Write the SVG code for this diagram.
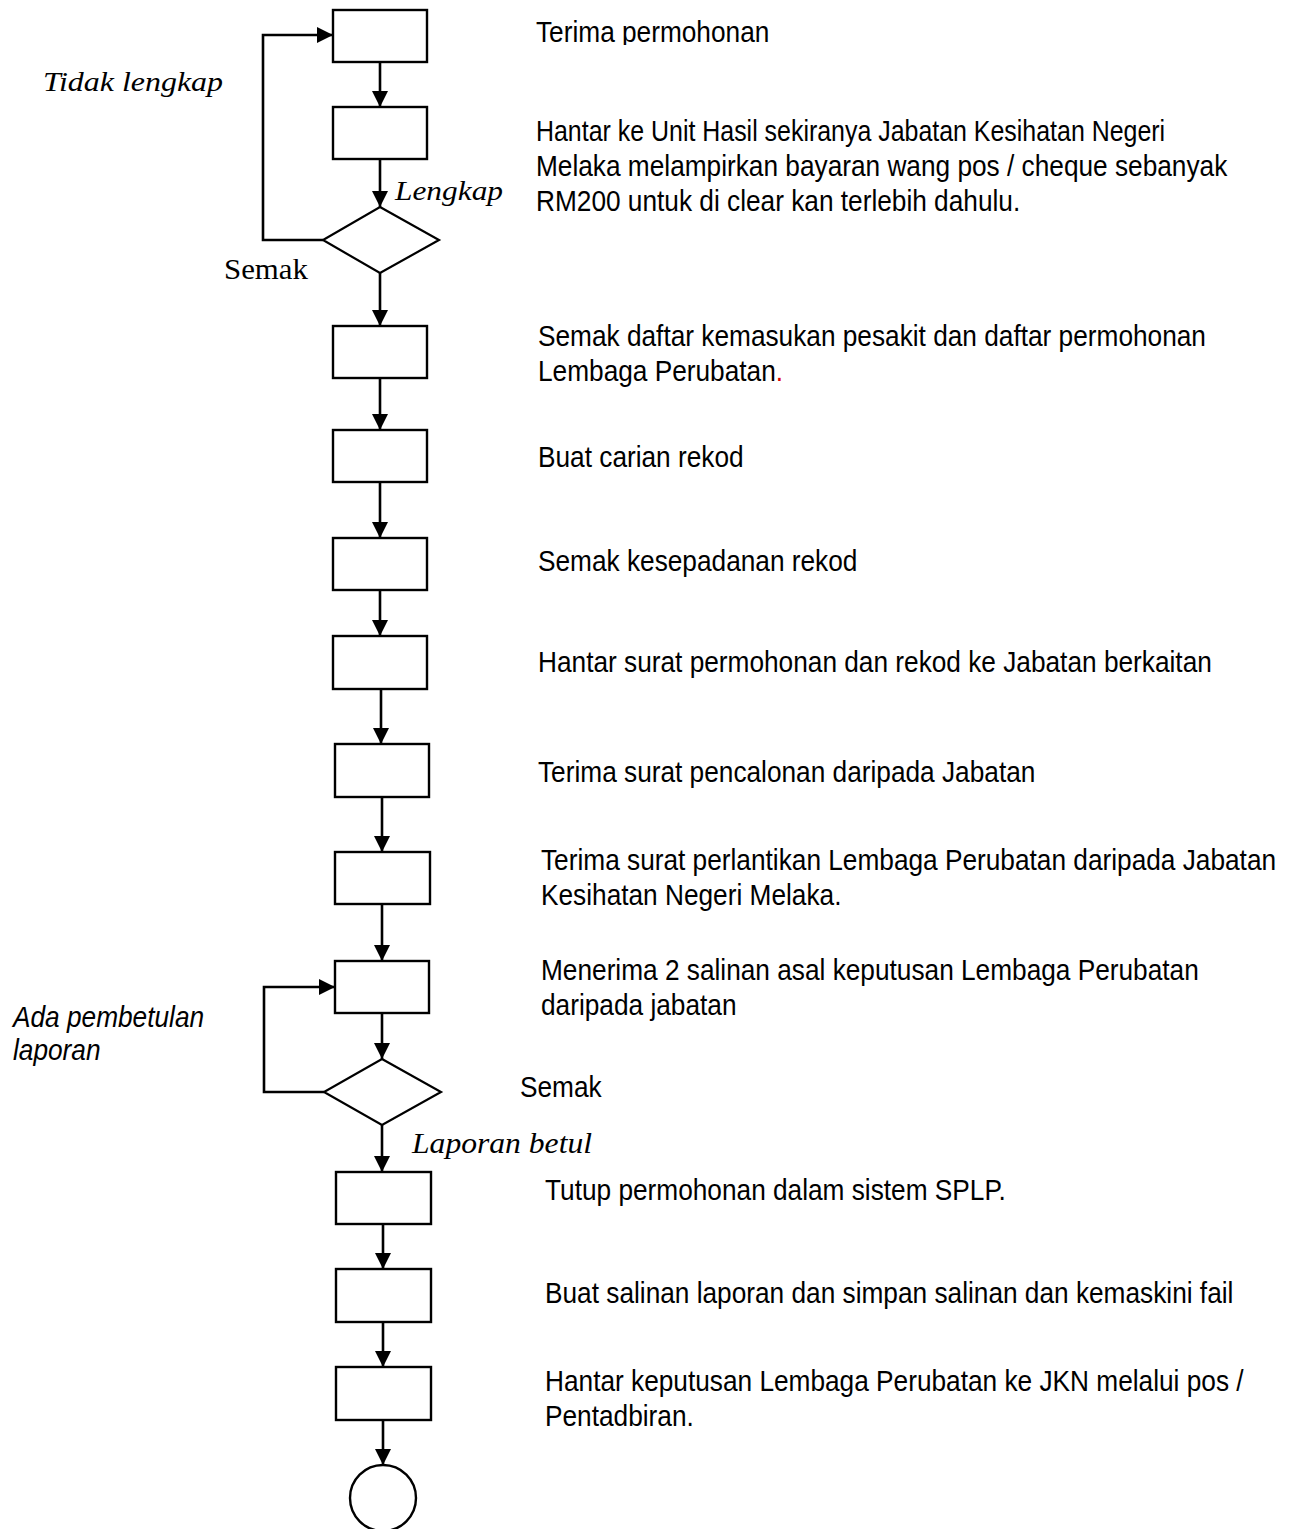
<svg xmlns="http://www.w3.org/2000/svg" width="1298" height="1529" viewBox="0 0 1298 1529">
<defs>
<marker id="ah" viewBox="0 0 16 16" refX="16" refY="8" markerWidth="16" markerHeight="16" markerUnits="userSpaceOnUse" orient="auto">
<path d="M0,0 L16,8 L0,16 z" fill="#000"/>
</marker>
<clipPath id="clipTop"><rect x="500" y="0" width="400" height="45"/></clipPath>
<style>
.box{fill:#fff;stroke:#000;stroke-width:2.4}
.dec{fill:#fff;stroke:#000;stroke-width:2.2}
.arr{fill:none;stroke:#000;stroke-width:2.6;marker-end:url(#ah)}
.t{font-family:"Liberation Sans",Arial,sans-serif;font-size:30px;fill:#000}
.ti{font-family:"Liberation Sans",Arial,sans-serif;font-size:30px;font-style:italic;fill:#000}
.s{font-family:"Liberation Serif","Times New Roman",serif;fill:#000}
.si{font-family:"Liberation Serif","Times New Roman",serif;font-style:italic;fill:#000}
</style>
</defs>
<rect width="1298" height="1529" fill="#fff"/>

<g id="connectors">
<line class="arr" x1="380" y1="62" x2="380" y2="107"/>
<line class="arr" x1="380" y1="159" x2="380" y2="207"/>
<line class="arr" x1="380" y1="273" x2="380" y2="326"/>
<line class="arr" x1="380" y1="378" x2="380" y2="430"/>
<line class="arr" x1="380" y1="482" x2="380" y2="538"/>
<line class="arr" x1="380" y1="590" x2="380" y2="636"/>
<line class="arr" x1="381" y1="689" x2="381" y2="744"/>
<line class="arr" x1="382" y1="797" x2="382" y2="852"/>
<line class="arr" x1="382" y1="904" x2="382" y2="961"/>
<line class="arr" x1="382" y1="1013" x2="382" y2="1059"/>
<line class="arr" x1="382" y1="1125" x2="382" y2="1172"/>
<line class="arr" x1="383" y1="1224" x2="383" y2="1269"/>
<line class="arr" x1="383" y1="1322" x2="383" y2="1367"/>
<line class="arr" x1="383" y1="1420" x2="383" y2="1465"/>
<polyline class="arr" points="323,240 263,240 263,35 333,35"/>
<polyline class="arr" points="324,1092 264,1092 264,987 335,987"/>
</g>

<g id="n1"><rect class="box" x="333" y="10" width="94" height="52"/>
<g clip-path="url(#clipTop)"><text class="t" transform="translate(536,42) scale(0.875,1)">Terima permohonan</text></g></g>

<g id="n2"><rect class="box" x="333" y="107" width="94" height="52"/>
<text class="t" transform="translate(536,141) scale(0.875,1)" textLength="719" lengthAdjust="spacingAndGlyphs">Hantar ke Unit Hasil sekiranya Jabatan Kesihatan Negeri</text>
<text class="t" transform="translate(536,176) scale(0.875,1)"><tspan x="0" y="0">Melaka melampirkan bayaran wang pos / cheque sebanyak</tspan><tspan x="0" y="35">RM200 untuk di clear kan terlebih dahulu.</tspan></text></g>

<g id="d1"><polygon class="dec" points="380,207 439,240 380,273 323,240"/>
<text class="s" x="224" y="279" font-size="30" textLength="84" lengthAdjust="spacingAndGlyphs">Semak</text>
<text class="si" x="395" y="200" font-size="27" textLength="108" lengthAdjust="spacingAndGlyphs">Lengkap</text>
<text class="si" x="43" y="91" font-size="28" textLength="180" lengthAdjust="spacingAndGlyphs">Tidak lengkap</text></g>

<g id="n3"><rect class="box" x="333" y="326" width="94" height="52"/>
<text class="t" transform="translate(538,346) scale(0.875,1)"><tspan x="0" y="0">Semak daftar kemasukan pesakit dan daftar permohonan</tspan><tspan x="0" y="35">Lembaga Perubatan<tspan fill="#e00000">.</tspan></tspan></text></g>

<g id="n4"><rect class="box" x="333" y="430" width="94" height="52"/>
<text class="t" transform="translate(538,467) scale(0.875,1)">Buat carian rekod</text></g>

<g id="n5"><rect class="box" x="333" y="538" width="94" height="52"/>
<text class="t" transform="translate(538,571) scale(0.875,1)">Semak kesepadanan rekod</text></g>

<g id="n6"><rect class="box" x="333" y="636" width="94" height="53"/>
<text class="t" transform="translate(538,672) scale(0.875,1)">Hantar surat permohonan dan rekod ke Jabatan berkaitan</text></g>

<g id="n7"><rect class="box" x="335" y="744" width="94" height="53"/>
<text class="t" transform="translate(538,782) scale(0.875,1)">Terima surat pencalonan daripada Jabatan</text></g>

<g id="n8"><rect class="box" x="335" y="852" width="95" height="52"/>
<text class="t" transform="translate(541,870) scale(0.875,1)"><tspan x="0" y="0">Terima surat perlantikan Lembaga Perubatan daripada Jabatan</tspan><tspan x="0" y="35">Kesihatan Negeri Melaka.</tspan></text></g>

<g id="n9"><rect class="box" x="335" y="961" width="94" height="52"/>
<text class="t" transform="translate(541,980) scale(0.875,1)"><tspan x="0" y="0">Menerima 2 salinan asal keputusan Lembaga Perubatan</tspan><tspan x="0" y="35">daripada jabatan</tspan></text></g>

<g id="d2"><polygon class="dec" points="382,1059 441,1092 382,1125 324,1092"/>
<text class="t" transform="translate(520,1097) scale(0.875,1)">Semak</text>
<text class="si" x="412" y="1153" font-size="29" textLength="180" lengthAdjust="spacingAndGlyphs">Laporan betul</text>
<text class="ti" transform="translate(13,1027) scale(0.875,1)"><tspan x="0" y="0">Ada pembetulan</tspan><tspan x="0" y="33">laporan</tspan></text></g>

<g id="n10"><rect class="box" x="336" y="1172" width="95" height="52"/>
<text class="t" transform="translate(545,1200) scale(0.875,1)">Tutup permohonan dalam sistem SPLP.</text></g>

<g id="n11"><rect class="box" x="336" y="1269" width="95" height="53"/>
<text class="t" transform="translate(545,1303) scale(0.875,1)">Buat salinan laporan dan simpan salinan dan kemaskini fail</text></g>

<g id="n12"><rect class="box" x="336" y="1367" width="95" height="53"/>
<text class="t" transform="translate(545,1391) scale(0.875,1)"><tspan x="0" y="0">Hantar keputusan Lembaga Perubatan ke JKN melalui pos /</tspan><tspan x="0" y="35">Pentadbiran.</tspan></text></g>

<g id="end"><circle class="box" cx="383" cy="1498" r="33"/></g>
</svg>
